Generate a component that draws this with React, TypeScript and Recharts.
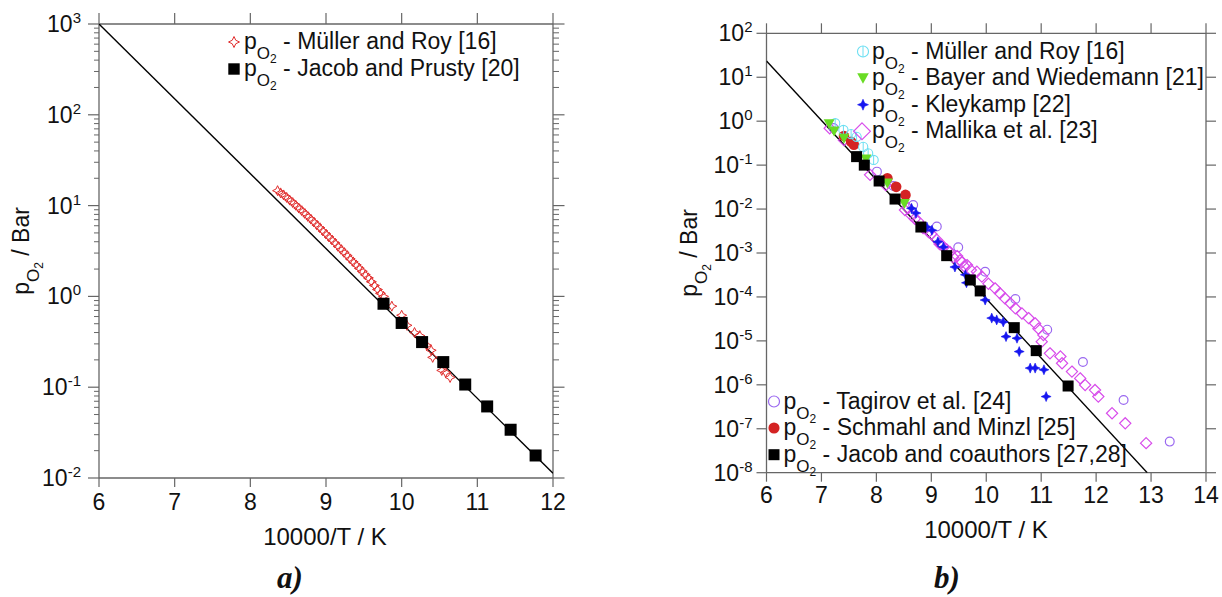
import React from 'react';
import { ScatterChart, Scatter, XAxis, YAxis, Legend, Label } from 'recharts';

const FONT = '"Liberation Sans", Arial, Helvetica, sans-serif';
const SERIF = '"Liberation Serif", "Times New Roman", serif';
const AXIS = '#666666';
const INK = '#111111';

// ---------------- Panel a data ----------------
const aXTicks = [6, 7, 8, 9, 10, 11, 12];
const aYDecades = [0.01, 0.1, 1, 10, 100, 1000];
const aFit = [
  { x: 6, y: 1000 },
  { x: 12, y: 0.0113 },
];
const aMullerRoy = [
  { x: 8.36, y: 14.6 }, { x: 8.4, y: 13.8 }, { x: 8.44, y: 13.1 }, { x: 8.48, y: 12.3 },
  { x: 8.52, y: 11.5 }, { x: 8.56, y: 10.8 }, { x: 8.6, y: 10.1 }, { x: 8.64, y: 9.4 },
  { x: 8.68, y: 8.8 }, { x: 8.72, y: 8.2 }, { x: 8.76, y: 7.6 }, { x: 8.8, y: 7.1 },
  { x: 8.84, y: 6.6 }, { x: 8.88, y: 6.1 }, { x: 8.92, y: 5.7 }, { x: 8.96, y: 5.25 },
  { x: 9.0, y: 4.86 }, { x: 9.04, y: 4.51 }, { x: 9.08, y: 4.18 }, { x: 9.12, y: 3.87 },
  { x: 9.16, y: 3.55 }, { x: 9.2, y: 3.29 }, { x: 9.24, y: 3.05 }, { x: 9.28, y: 2.82 },
  { x: 9.32, y: 2.59 }, { x: 9.36, y: 2.4 }, { x: 9.4, y: 2.22 }, { x: 9.44, y: 2.04 },
  { x: 9.48, y: 1.89 }, { x: 9.52, y: 1.73 }, { x: 9.56, y: 1.6 }, { x: 9.6, y: 1.45 },
  { x: 9.64, y: 1.32 }, { x: 9.68, y: 1.19 }, { x: 9.72, y: 1.08 }, { x: 9.76, y: 1.0 },
  { x: 9.87, y: 0.78 }, { x: 10.0, y: 0.62 }, { x: 10.07, y: 0.48 }, { x: 10.17, y: 0.4 },
  { x: 10.24, y: 0.37 }, { x: 10.33, y: 0.29 }, { x: 10.39, y: 0.255 }, { x: 10.41, y: 0.213 },
  { x: 10.53, y: 0.153 }, { x: 10.58, y: 0.146 }, { x: 10.64, y: 0.128 },
];
const aJacobPrusty = [
  { x: 9.76, y: 0.83 }, { x: 10.0, y: 0.51 }, { x: 10.27, y: 0.314 }, { x: 10.55, y: 0.189 },
  { x: 10.84, y: 0.107 }, { x: 11.13, y: 0.0614 }, { x: 11.44, y: 0.034 }, { x: 11.77, y: 0.0177 },
];

// ---------------- Panel b data ----------------
const bXTicks = [6, 7, 8, 9, 10, 11, 12, 13, 14];
const bYDecades = [1e-8, 1e-7, 1e-6, 1e-5, 1e-4, 1e-3, 1e-2, 1e-1, 1, 10, 100];
const bFit = [
  { x: 6, y: 23.4 },
  { x: 12.93, y: 1e-8 },
];
const bMullerRoy = [
  { x: 7.25, y: 0.9 }, { x: 7.4, y: 0.63 }, { x: 7.54, y: 0.51 }, { x: 7.64, y: 0.44 },
  { x: 7.76, y: 0.26 }, { x: 7.85, y: 0.186 }, { x: 7.95, y: 0.131 },
];
const bBayer = [
  { x: 7.14, y: 0.87 }, { x: 7.23, y: 0.6 }, { x: 7.41, y: 0.41 }, { x: 7.81, y: 0.138 },
  { x: 8.2, y: 0.039 }, { x: 8.51, y: 0.0134 },
];
const bKleykamp = [
  { x: 8.64, y: 0.0104 }, { x: 8.72, y: 8.1e-3 }, { x: 8.92, y: 3.9e-3 }, { x: 9.01, y: 3.3e-3 },
  { x: 9.12, y: 1.8e-3 }, { x: 9.22, y: 1.37e-3 }, { x: 9.43, y: 4.8e-4 }, { x: 9.62, y: 3.2e-4 },
  { x: 9.64, y: 2.1e-4 }, { x: 9.98, y: 8.5e-5 }, { x: 10.1, y: 3.3e-5 }, { x: 10.19, y: 3.0e-5 },
  { x: 10.31, y: 2.7e-5 }, { x: 10.36, y: 1.25e-5 }, { x: 10.56, y: 1.15e-5 }, { x: 10.6, y: 5.7e-6 },
  { x: 10.8, y: 2.4e-6 }, { x: 10.89, y: 2.4e-6 }, { x: 11.05, y: 2.2e-6 }, { x: 11.09, y: 5.4e-7 },
];
const bMallika = [
  { x: 7.15, y: 0.69 }, { x: 7.41, y: 0.37 }, { x: 7.885, y: 0.06 }, { x: 8.17, y: 0.035 },
  { x: 8.52, y: 9.5e-3 }, { x: 8.58, y: 0.0105 }, { x: 8.63, y: 7.3e-3 }, { x: 8.7, y: 6.0e-3 },
  { x: 8.76, y: 5.3e-3 }, { x: 8.85, y: 3.7e-3 }, { x: 8.95, y: 3.0e-3 }, { x: 9.0, y: 2.7e-3 },
  { x: 9.1, y: 2.0e-3 }, { x: 9.15, y: 1.6e-3 }, { x: 9.21, y: 1.44e-3 }, { x: 9.28, y: 1.2e-3 },
  { x: 9.34, y: 1.05e-3 }, { x: 9.4, y: 8.0e-4 }, { x: 9.47, y: 8.5e-4 }, { x: 9.52, y: 6.8e-4 },
  { x: 9.56, y: 6.2e-4 }, { x: 9.6, y: 5.0e-4 }, { x: 9.65, y: 5.3e-4 }, { x: 9.72, y: 4.1e-4 },
  { x: 9.83, y: 3.75e-4 }, { x: 9.92, y: 2.9e-4 }, { x: 10.04, y: 2.0e-4 }, { x: 10.16, y: 1.57e-4 },
  { x: 10.25, y: 1.21e-4 }, { x: 10.34, y: 9.3e-5 }, { x: 10.44, y: 7.2e-5 }, { x: 10.53, y: 5.5e-5 },
  { x: 10.65, y: 4.2e-5 }, { x: 10.77, y: 3.3e-5 }, { x: 10.89, y: 2.5e-5 }, { x: 10.95, y: 1.9e-5 },
  { x: 11.04, y: 1.36e-5 }, { x: 11.01, y: 9.6e-6 }, { x: 11.16, y: 5.2e-6 }, { x: 11.35, y: 4.4e-6 },
  { x: 11.38, y: 3.1e-6 }, { x: 11.56, y: 2.0e-6 }, { x: 11.71, y: 1.4e-6 }, { x: 11.8, y: 9.9e-7 },
  { x: 11.98, y: 7.6e-7 }, { x: 12.04, y: 5.4e-7 }, { x: 12.29, y: 2.25e-7 }, { x: 12.53, y: 1.33e-7 },
  { x: 12.91, y: 4.7e-8 },
];
const bTagirov = [
  { x: 7.22, y: 0.7 }, { x: 8.01, y: 0.071 }, { x: 8.31, y: 0.0335 }, { x: 8.67, y: 0.0124 },
  { x: 9.1, y: 4.0e-3 }, { x: 9.49, y: 1.35e-3 }, { x: 9.98, y: 3.75e-4 }, { x: 10.53, y: 9.0e-5 },
  { x: 11.11, y: 1.8e-5 }, { x: 11.76, y: 3.3e-6 }, { x: 12.5, y: 4.5e-7 }, { x: 13.34, y: 5.1e-8 },
];
const bSchmahl = [
  { x: 7.41, y: 0.46 }, { x: 7.54, y: 0.34 }, { x: 7.59, y: 0.29 }, { x: 8.2, y: 0.05 },
  { x: 8.36, y: 0.032 }, { x: 8.53, y: 0.021 },
];
const bJacob = [
  { x: 7.64, y: 0.156 }, { x: 7.78, y: 0.1 }, { x: 8.05, y: 0.0435 }, { x: 8.34, y: 0.0169 },
  { x: 8.81, y: 0.0039 }, { x: 9.28, y: 8.7e-4 }, { x: 9.71, y: 2.43e-4 }, { x: 9.89, y: 1.37e-4 },
  { x: 10.51, y: 2.0e-5 }, { x: 10.91, y: 6.0e-6 }, { x: 11.49, y: 9.4e-7 },
];

// ---------------- helpers ----------------
const withMinors = (decades: number[]) => {
  const out: number[] = [];
  decades.forEach((d, i) => {
    out.push(d);
    if (i < decades.length - 1) for (let m = 2; m <= 9; m++) out.push(d * m);
  });
  return out;
};
const aYTicks = withMinors(aYDecades);

const isMajor = (v: number) => {
  const l = Math.log10(v);
  return Math.abs(l - Math.round(l)) < 1e-6;
};

const star4 = (cx: number, cy: number, r: number, i: number) =>
  `M${cx},${cy - r}L${cx + i},${cy - i}L${cx + r},${cy}L${cx + i},${cy + i}L${cx},${cy + r}L${cx - i},${cy + i}L${cx - r},${cy}L${cx - i},${cy - i}Z`;

const COLORS = {
  redStar: '#e12d2d',
  cyan: '#6cdff2',
  green: '#69dc24',
  blue: '#1616f0',
  magenta: '#d84ceb',
  violet: '#9a68f0',
  red: '#d42323',
};

function drawMarker(kind: string, cx: number, cy: number, s = 1): React.ReactElement {
  switch (kind) {
    case 'redStar':
      return <path d={star4(cx, cy, 5 * s, 1.6 * s)} fill="none" stroke={COLORS.redStar} strokeWidth={1} />;
    case 'squareA':
      return <rect x={cx - 6 * s} y={cy - 6 * s} width={12 * s} height={12 * s} fill="#000" />;
    case 'squareB':
      return <rect x={cx - 5.5 * s} y={cy - 5.5 * s} width={11 * s} height={11 * s} fill="#000" />;
    case 'cyan':
      return (
        <g>
          <circle cx={cx} cy={cy} r={4.6 * s} fill="none" stroke={COLORS.cyan} strokeWidth={1.1} />
          <line x1={cx} x2={cx} y1={cy - 4.6 * s} y2={cy + 4.6 * s} stroke={COLORS.cyan} strokeWidth={1} />
        </g>
      );
    case 'green':
      return (
        <polygon
          points={`${cx - 5.5 * s},${cy - 4.5 * s} ${cx + 5.5 * s},${cy - 4.5 * s} ${cx},${cy + 5.5 * s}`}
          fill={COLORS.green}
        />
      );
    case 'blue':
      return <path d={star4(cx, cy, 5 * s, 1.5 * s)} fill={COLORS.blue} stroke={COLORS.blue} strokeWidth={0.6} />;
    case 'magenta':
      return (
        <path
          d={`M${cx},${cy - 5.6 * s}L${cx + 5.6 * s},${cy}L${cx},${cy + 5.6 * s}L${cx - 5.6 * s},${cy}Z`}
          fill="none"
          stroke={COLORS.magenta}
          strokeWidth={1.2}
        />
      );
    case 'violet':
      return <circle cx={cx} cy={cy} r={4.4 * s} fill="none" stroke={COLORS.violet} strokeWidth={1.2} />;
    case 'red':
      return <circle cx={cx} cy={cy} r={5.3 * s} fill={COLORS.red} />;
    default:
      return <g />;
  }
}

const shapeOf = (kind: string) => (p: any) => drawMarker(kind, p.cx, p.cy);

// ---------------- tick renderers ----------------
function YTickLeft(props: any) {
  const { x, y, payload, major = 11, minor = 5, gap = 18 } = props;
  const v = payload?.value;
  if (!isMajor(v)) return <line x1={x - minor} x2={x} y1={y} y2={y} stroke={AXIS} strokeWidth={1} />;
  const e = Math.round(Math.log10(v));
  return (
    <g>
      <line x1={x - major} x2={x} y1={y} y2={y} stroke={AXIS} strokeWidth={1.2} />
      <text x={x - gap} y={y + 8} textAnchor="end" fontFamily={FONT} fontSize={23} fill={INK}>
        10
        <tspan dy={-9} fontSize={15}>
          {e}
        </tspan>
      </text>
    </g>
  );
}
function YTickRight(props: any) {
  const { x, y, payload, major = 11, minor = 5 } = props;
  const len = isMajor(payload?.value) ? major : minor;
  return <line x1={x} x2={x + len} y1={y} y2={y} stroke={AXIS} strokeWidth={isMajor(payload?.value) ? 1.2 : 1} />;
}
function XTickBottom(props: any) {
  const { x, y, payload, len = 9, labelDy = 32 } = props;
  return (
    <g>
      <line x1={x} x2={x} y1={y} y2={y + len} stroke={AXIS} strokeWidth={1.2} />
      <text x={x} y={y + labelDy} textAnchor="middle" fontFamily={FONT} fontSize={23} fill={INK}>
        {payload?.value}
      </text>
    </g>
  );
}
function XTickTop(props: any) {
  const { x, y, len = 10 } = props;
  return <line x1={x} x2={x} y1={y - len} y2={y} stroke={AXIS} strokeWidth={1.2} />;
}

const PO2 = ({ rest }: { rest: string }) => (
  <>
    p
    <tspan dy={10} fontSize={17}>
      O
    </tspan>
    <tspan dy={4} fontSize={12}>
      2
    </tspan>
    <tspan dy={-14} fontSize={23}>
      {rest}
    </tspan>
  </>
);

const yTitle = (cx: number, cy: number) => () =>
  (
    <text
      x={cx}
      y={cy}
      transform={`rotate(-90 ${cx} ${cy})`}
      textAnchor="middle"
      fontFamily={FONT}
      fontSize={23}
      fill={INK}
    >
      <PO2 rest=" / Bar" />
    </text>
  );

const xTitle = (cx: number, y: number) => () =>
  (
    <text x={cx} y={y} textAnchor="middle" fontFamily={FONT} fontSize={24} fill={INK}>
      10000/T / K
    </text>
  );

type LegendRow = { label: string; marker: string; mx: number; tx: number; by: number; ms?: number };

const legendA: LegendRow[] = [
  { label: ' - Müller and Roy [16]', marker: 'redStar', mx: 234, tx: 244, by: 49, ms: 1.1 },
  { label: ' - Jacob and Prusty [20]', marker: 'squareA', mx: 234, tx: 244, by: 76, ms: 0.95 },
];
const legendB: LegendRow[] = [
  { label: ' - Müller and Roy [16]', marker: 'cyan', mx: 253, tx: 262, by: 58.5, ms: 1.2 },
  { label: ' - Bayer and Wiedemann [21]', marker: 'green', mx: 253, tx: 262, by: 85, ms: 1.05 },
  { label: ' - Kleykamp [22]', marker: 'blue', mx: 253, tx: 262, by: 111.7, ms: 1.1 },
  { label: ' - Mallika et al. [23]', marker: 'magenta', mx: 252, tx: 262, by: 138.3, ms: 1.5 },
  { label: ' - Tagirov et al. [24]', marker: 'violet', mx: 164, tx: 173.5, by: 408.5, ms: 1.25 },
  { label: ' - Schmahl and Minzl [25]', marker: 'red', mx: 164, tx: 173.5, by: 435, ms: 1.05 },
  { label: ' - Jacob and coauthors [27,28]', marker: 'squareB', mx: 164, tx: 173.5, by: 461.7, ms: 1.0 },
];

const LegendSvg = ({ rows, w, h }: { rows: LegendRow[]; w: number; h: number }) => (
  <svg width={w} height={h} style={{ position: 'absolute', left: 0, top: 0, overflow: 'visible' }}>
    {rows.map((r) => (
      <g key={r.label}>
        {drawMarker(r.marker, r.mx, r.by - 7, r.ms ?? 1)}
        <text x={r.tx} y={r.by} fontFamily={FONT} fontSize={23} fill={INK}>
          <PO2 rest={r.label} />
        </text>
      </g>
    ))}
  </svg>
);

const axisLine = { stroke: AXIS, strokeWidth: 1.3 };

function PanelA() {
  const W = 600;
  const H = 597;
  return (
    <div style={{ position: 'absolute', left: 0, top: 0 }}>
      <ScatterChart width={W} height={H} margin={{ top: 14, right: 35, bottom: 59, left: 9 }}>
        <XAxis
          xAxisId="b"
          dataKey="x"
          type="number"
          domain={[6, 12]}
          ticks={aXTicks}
          interval={0}
          allowDataOverflow
          height={60}
          tickSize={0}
          tickMargin={0}
          tickLine={false}
          axisLine={axisLine}
          tick={<XTickBottom len={9} labelDy={32} />}
        >
          <Label content={xTitle(325, 545)} />
        </XAxis>
        <XAxis
          xAxisId="t"
          orientation="top"
          dataKey="x"
          type="number"
          domain={[6, 12]}
          ticks={aXTicks}
          interval={0}
          allowDataOverflow
          height={10}
          tickSize={0}
          tickMargin={0}
          tickLine={false}
          axisLine={axisLine}
          tick={<XTickTop len={11} />}
        />
        <YAxis
          yAxisId="l"
          dataKey="y"
          type="number"
          scale="log"
          domain={[0.01, 1000]}
          ticks={aYTicks}
          interval={0}
          allowDataOverflow
          width={90}
          tickSize={0}
          tickMargin={0}
          tickLine={false}
          axisLine={axisLine}
          tick={<YTickLeft major={11} minor={5} gap={18} />}
        >
          <Label content={yTitle(29, 251)} />
        </YAxis>
        <YAxis
          yAxisId="r"
          orientation="right"
          dataKey="y"
          type="number"
          scale="log"
          domain={[0.01, 1000]}
          ticks={aYTicks}
          interval={0}
          allowDataOverflow
          width={12}
          tickSize={0}
          tickMargin={0}
          tickLine={false}
          axisLine={axisLine}
          tick={<YTickRight major={11.5} minor={6} />}
        />
        <Scatter
          name="fit a"
          data={aFit}
          xAxisId="b"
          yAxisId="l"
          line={{ stroke: '#000', strokeWidth: 1.4 }}
          shape={() => <g />}
          legendType="none"
          isAnimationActive={false}
        />
        <Scatter
          name="Müller and Roy [16]"
          data={aMullerRoy}
          xAxisId="b"
          yAxisId="l"
          shape={shapeOf('redStar')}
          isAnimationActive={false}
        />
        <Scatter
          name="Jacob and Prusty [20]"
          data={aJacobPrusty}
          xAxisId="b"
          yAxisId="l"
          shape={shapeOf('squareA')}
          isAnimationActive={false}
        />
        <Legend
          layout="vertical"
          align="center"
          verticalAlign="middle"
          wrapperStyle={{ left: 0, top: 0, width: W, height: H, pointerEvents: 'none' }}
          content={() => <LegendSvg rows={legendA} w={W} h={H} />}
        />
      </ScatterChart>
    </div>
  );
}

function PanelB() {
  const W = 612;
  const H = 597;
  return (
    <div style={{ position: 'absolute', left: 610, top: 0 }}>
      <ScatterChart width={W} height={H} margin={{ top: 23.3, right: 6, bottom: 64.3, left: 66.5 }}>
        <XAxis
          xAxisId="b"
          dataKey="x"
          type="number"
          domain={[6, 14]}
          ticks={bXTicks}
          interval={0}
          allowDataOverflow
          height={60}
          tickSize={0}
          tickMargin={0}
          tickLine={false}
          axisLine={axisLine}
          tick={<XTickBottom len={9} labelDy={30.5} />}
        >
          <Label content={xTitle(376, 538)} />
        </XAxis>
        <XAxis
          xAxisId="t"
          orientation="top"
          dataKey="x"
          type="number"
          domain={[6, 14]}
          ticks={bXTicks}
          interval={0}
          allowDataOverflow
          height={10}
          tickSize={0}
          tickMargin={0}
          tickLine={false}
          axisLine={axisLine}
          tick={<XTickTop len={10} />}
        />
        <YAxis
          yAxisId="l"
          dataKey="y"
          type="number"
          scale="log"
          domain={[1e-8, 100]}
          ticks={bYDecades}
          interval={0}
          allowDataOverflow
          width={90}
          tickSize={0}
          tickMargin={0}
          tickLine={false}
          axisLine={axisLine}
          tick={<YTickLeft major={10} minor={5} gap={14} />}
        >
          <Label content={yTitle(87, 253)} />
        </YAxis>
        <YAxis
          yAxisId="r"
          orientation="right"
          dataKey="y"
          type="number"
          scale="log"
          domain={[1e-8, 100]}
          ticks={bYDecades}
          interval={0}
          allowDataOverflow
          width={10}
          tickSize={0}
          tickMargin={0}
          tickLine={false}
          axisLine={axisLine}
          tick={<YTickRight major={10} minor={5} />}
        />
        <Scatter
          name="fit b"
          data={bFit}
          xAxisId="b"
          yAxisId="l"
          line={{ stroke: '#000', strokeWidth: 1.4 }}
          shape={() => <g />}
          legendType="none"
          isAnimationActive={false}
        />
        <Scatter name="Tagirov et al. [24]" data={bTagirov} xAxisId="b" yAxisId="l" shape={shapeOf('violet')} isAnimationActive={false} />
        <Scatter name="Mallika et al. [23]" data={bMallika} xAxisId="b" yAxisId="l" shape={shapeOf('magenta')} isAnimationActive={false} />
        <Scatter name="Kleykamp [22]" data={bKleykamp} xAxisId="b" yAxisId="l" shape={shapeOf('blue')} isAnimationActive={false} />
        <Scatter name="Schmahl and Minzl [25]" data={bSchmahl} xAxisId="b" yAxisId="l" shape={shapeOf('red')} isAnimationActive={false} />
        <Scatter name="Müller and Roy [16]" data={bMullerRoy} xAxisId="b" yAxisId="l" shape={shapeOf('cyan')} isAnimationActive={false} />
        <Scatter name="Bayer and Wiedemann [21]" data={bBayer} xAxisId="b" yAxisId="l" shape={shapeOf('green')} isAnimationActive={false} />
        <Scatter name="Jacob and coauthors [27,28]" data={bJacob} xAxisId="b" yAxisId="l" shape={shapeOf('squareB')} isAnimationActive={false} />
        <Legend
          layout="vertical"
          align="center"
          verticalAlign="middle"
          wrapperStyle={{ left: 0, top: 0, width: W, height: H, pointerEvents: 'none' }}
          content={() => <LegendSvg rows={legendB} w={W} h={H} />}
        />
      </ScatterChart>
    </div>
  );
}

export default function App() {
  return (
    <div
      style={{
        position: 'absolute',
        left: 0,
        top: 0,
        width: 1222,
        height: 597,
        background: '#fff',
        overflow: 'hidden',
      }}
    >
      <svg width={1222} height={597} style={{ position: 'absolute', left: 0, top: 0 }}>
        <text x={290} y={588} textAnchor="middle" fontFamily={SERIF} fontSize={31} fontWeight="bold" fontStyle="italic" fill={INK}>
          a)
        </text>
        <text x={947} y={588} textAnchor="middle" fontFamily={SERIF} fontSize={31} fontWeight="bold" fontStyle="italic" fill={INK}>
          b)
        </text>
      </svg>
      <PanelA />
      <PanelB />
    </div>
  );
}
